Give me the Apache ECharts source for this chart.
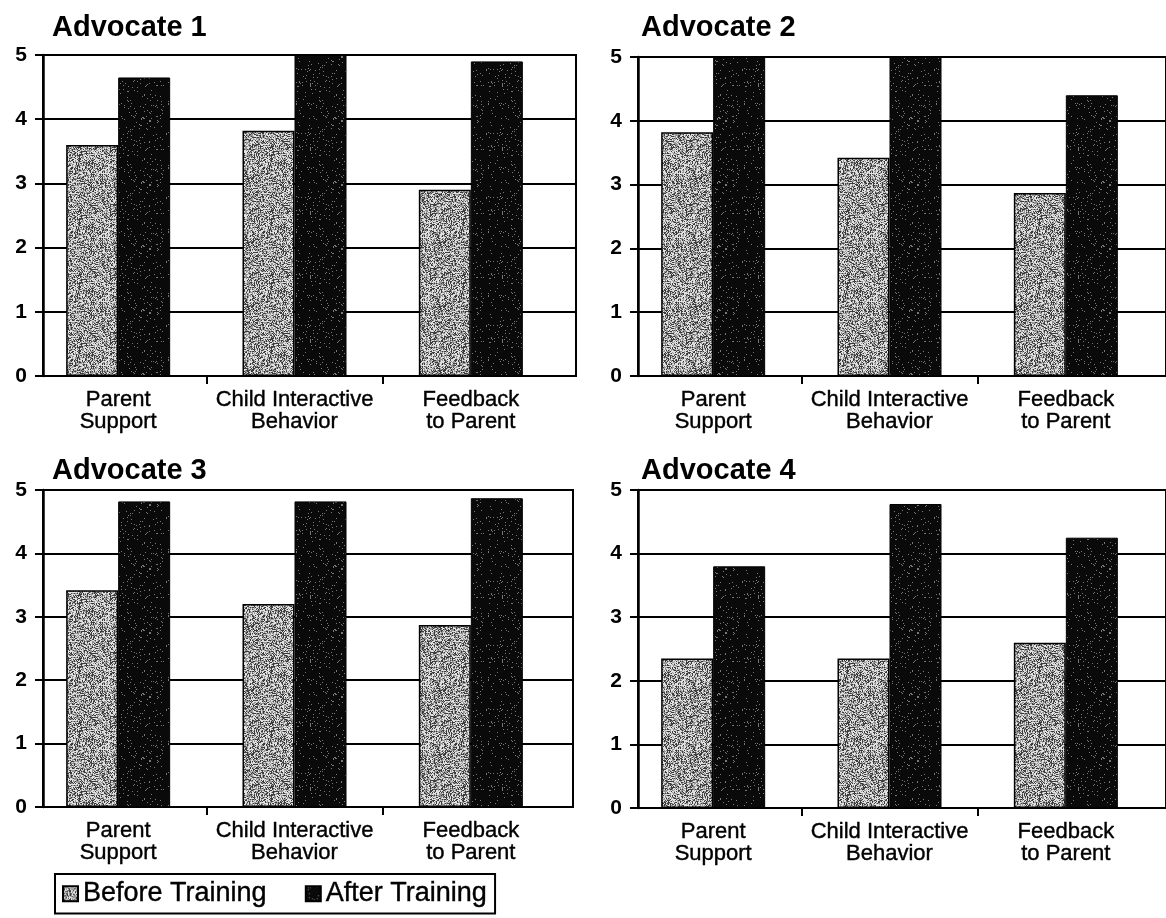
<!DOCTYPE html>
<html>
<head>
<meta charset="utf-8">
<script src="https://cdn.jsdelivr.net/npm/echarts@6/dist/echarts.min.js"></script>
<style>
  html, body { margin: 0; padding: 0; background: #fff; }
  #chart { width: 1166px; height: 918px; }
</style>
</head>
<body>
<div id="chart"></div>
<script>
// ---- data ----
const categories = ['Parent\nSupport', 'Child Interactive\nBehavior', 'Feedback\nto Parent'];
const seriesNames = ['Before Training', 'After Training'];
const panelTitles = ['Advocate 1', 'Advocate 2', 'Advocate 3', 'Advocate 4'];
const before1 = [3.6, 3.82, 2.9];
const after1  = [4.65, 5.0, 4.9];
const before2 = [3.82, 3.42, 2.87];
const after2  = [5.0, 5.0, 4.4];
const before3 = [3.42, 3.2, 2.87];
const after3  = [4.82, 4.82, 4.87];
const before4 = [2.35, 2.35, 2.6];
const after4  = [3.8, 4.78, 4.25];
const yMin = 0, yMax = 5, yStep = 1;
const categoryBoundaries = [1, 2];

const beforeData = [before1, before2, before3, before4];
const afterData = [after1, after2, after3, after4];

// ---- deterministic speckle textures (style only) ----
function hash(x, y, seed) {
  let h = (Math.imul(x, 374761393) + Math.imul(y, 668265263) + Math.imul(seed, 1442695041)) | 0;
  h = Math.imul(h ^ (h >>> 13), 1274126177);
  h = h ^ (h >>> 16);
  return (h >>> 0) / 4294967296;
}
function makeTexture(kind) {
  const size = 64;
  const c = document.createElement('canvas');
  c.width = size; c.height = size;
  const ctx = c.getContext('2d');
  const img = ctx.createImageData(size, size);
  for (let y = 0; y < size; y++) {
    for (let x = 0; x < size; x++) {
      const v = hash(x, y, kind === 'light' ? 7 : 13);
      let g;
      if (kind === 'light') {
        g = v < 0.3 ? 60 : (v < 0.62 ? 150 : 225);
      } else {
        g = v < 0.05 ? 120 : 10;
      }
      const i = (y * size + x) * 4;
      img.data[i] = g; img.data[i + 1] = g; img.data[i + 2] = g; img.data[i + 3] = 255;
    }
  }
  ctx.putImageData(img, 0, 0);
  return c;
}
const lightTex = { image: makeTexture('light'), repeat: 'repeat' };
const darkTex = { image: makeTexture('dark'), repeat: 'repeat' };

const FONT = '"Liberation Sans", Arial, Helvetica, sans-serif';

// ---- layout ----
const panels = [
  { frameLeft: 43,  top: 55,  bottom: 376, frameRight: 576,  titleLeft: 52,  titleTop: 13 },
  { frameLeft: 638, top: 57,  bottom: 376, frameRight: 1171, titleLeft: 641, titleTop: 13 },
  { frameLeft: 43,  top: 490, bottom: 807, frameRight: 573,  titleLeft: 52,  titleTop: 456 },
  { frameLeft: 638, top: 490, bottom: 808, frameRight: 1171, titleLeft: 641, titleTop: 456 }
];

const grid = [], xAxis = [], yAxis = [], series = [], title = [];
panels.forEach((p, k) => {
  const h = p.bottom - p.top;
  grid.push({ left: p.frameLeft, top: p.top, width: p.frameRight - p.frameLeft, height: h,
              show: true, borderColor: '#000', borderWidth: 2, backgroundColor: 'transparent' });
  grid.push({ left: p.frameLeft - 13, top: p.top, width: 529, height: h, show: false });
  const gf = 2 * k, gb = 2 * k + 1;

  xAxis.push({ gridIndex: gf, type: 'value', min: 0, max: 1, show: false });
  xAxis.push({ gridIndex: gb, type: 'category', data: categories, position: 'bottom',
               axisLine: { show: false }, axisTick: { show: false }, splitLine: { show: false },
               axisLabel: { margin: 13, fontSize: 22, lineHeight: 22, color: '#000', fontFamily: FONT, interval: 0,
                            textBorderColor: '#000', textBorderWidth: 0.4 } });
  xAxis.push({ gridIndex: gb, type: 'value', min: 0, max: categories.length, position: 'bottom',
               axisLine: { show: false }, splitLine: { show: false },
               axisLabel: { show: false },
               axisTick: { show: true, length: 8, customValues: categoryBoundaries,
                           lineStyle: { color: '#000', width: 2 } } });

  yAxis.push({ gridIndex: gf, type: 'value', min: yMin, max: yMax, interval: yStep,
               axisLine: { show: true, lineStyle: { color: '#000', width: 2.5 } },
               axisTick: { show: true, length: 8, lineStyle: { color: '#000', width: 2 } },
               splitLine: { show: true, lineStyle: { color: '#000', width: 1.8 } },
               axisLabel: { margin: 16, fontSize: 21, fontWeight: 'bold', color: '#000', fontFamily: FONT } });
  yAxis.push({ gridIndex: gb, type: 'value', min: yMin, max: yMax, show: false });

  const xi = 3 * k + 1, yi = 2 * k + 1;
  series.push({ name: seriesNames[0], type: 'bar', xAxisIndex: xi, yAxisIndex: yi,
                data: beforeData[k], barWidth: 52, barGap: '0%',
                itemStyle: { color: lightTex, borderColor: '#000', borderWidth: 1.5 } });
  series.push({ name: seriesNames[1], type: 'bar', xAxisIndex: xi, yAxisIndex: yi,
                data: afterData[k], barWidth: 52, barGap: '0%',
                itemStyle: { color: darkTex, borderColor: '#000', borderWidth: 1 } });

  title.push({ text: panelTitles[k], left: p.titleLeft, top: p.titleTop, padding: 0,
               textStyle: { fontSize: 29, fontWeight: 'bold', color: '#000', fontFamily: FONT } });
});

const chart = echarts.init(document.getElementById('chart'), null, { renderer: 'canvas' });
chart.setOption({
  backgroundColor: '#fff',
  animation: false,
  title: title,
  grid: grid,
  xAxis: xAxis,
  yAxis: yAxis,
  series: series,
  legend: {
    data: seriesNames,
    left: 55, top: 874,
    orient: 'horizontal',
    itemWidth: 15, itemHeight: 15, itemGap: 38,
    padding: [6, 8, 6, 7],
    borderColor: '#000', borderWidth: 2,
    icon: 'rect',
    textStyle: { fontSize: 27, color: '#000', fontFamily: FONT, textBorderColor: '#000', textBorderWidth: 0.4 },
    selectedMode: false
  }
});
</script>
</body>
</html>
